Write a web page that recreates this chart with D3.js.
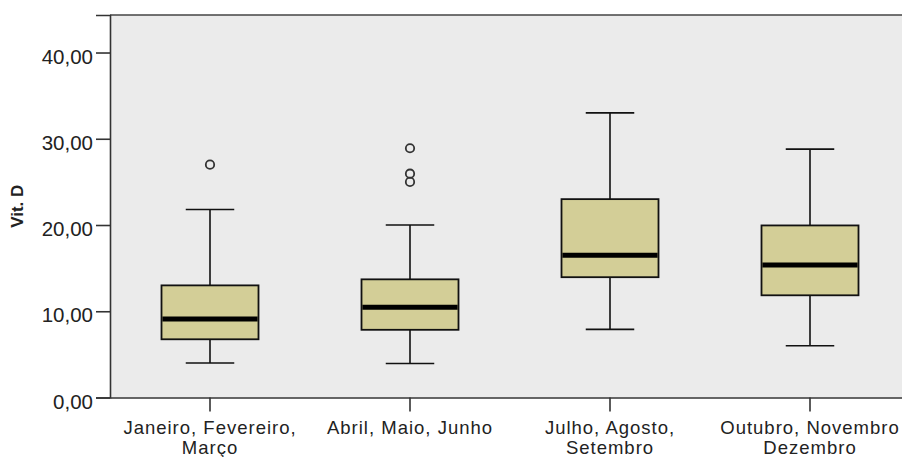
<!DOCTYPE html>
<html>
<head>
<meta charset="utf-8">
<script src="https://cdn.jsdelivr.net/npm/d3@7/dist/d3.min.js"></script>
<style>
  html, body { margin: 0; padding: 0; background: #fff; }
  svg { display: block; }
  text { font-family: "Liberation Sans", Arial, sans-serif; fill: #222; }
</style>
</head>
<body>
<svg id="chart" width="902" height="457"></svg>
<script>
const categories = [
  ["Janeiro, Fevereiro,", "Março"],
  ["Abril, Maio, Junho"],
  ["Julho, Agosto,", "Setembro"],
  ["Outubro, Novembro", "Dezembro"]
];
const whiskerLow  = [4.0, 3.95, 7.9, 6.0];
const q1          = [6.75, 7.85, 13.95, 11.85];
const medianVals  = [9.1, 10.45, 16.5, 15.35];
const q3          = [13.0, 13.7, 23.0, 19.95];
const whiskerHigh = [21.8, 20.0, 33.0, 28.8];
const outliers    = [[27.0], [28.9, 25.95, 25.0], [], []];
const yTicks      = [0, 10, 20, 30, 40];
const yAxisTitle  = "Vit. D";
const yDomainMax  = 44.35;

(function () {
const svg = d3.select("#chart");
const pLeft = 110, pRight = 910, pTop = 15, pBottom = 397.5;

const x = d3.scaleBand().domain(d3.range(categories.length)).range([pLeft, pRight]).paddingInner(0).paddingOuter(0);
const y = d3.scaleLinear().domain([0, yDomainMax]).range([pBottom, pTop]);

// plot background
svg.append("rect")
  .attr("x", pLeft).attr("y", pTop)
  .attr("width", pRight - pLeft).attr("height", pBottom - pTop)
  .attr("fill", "#ebebeb");

const boxW = x.bandwidth() * 0.485;
const capW = boxW * 0.5;

const data = categories.map((c, i) => ({
  i, lo: whiskerLow[i], q1: q1[i], med: medianVals[i], q3: q3[i], hi: whiskerHigh[i], out: outliers[i]
}));

const g = svg.append("g");
const grp = g.selectAll("g.box").data(data).enter().append("g").attr("class", "box");
const cx = d => x(d.i) + x.bandwidth() / 2;

// whiskers
grp.append("line")
  .attr("x1", cx).attr("x2", cx)
  .attr("y1", d => y(d.hi)).attr("y2", d => y(d.q3))
  .attr("stroke", "#111").attr("stroke-width", 1.6);
grp.append("line")
  .attr("x1", cx).attr("x2", cx)
  .attr("y1", d => y(d.q1)).attr("y2", d => y(d.lo))
  .attr("stroke", "#111").attr("stroke-width", 1.6);
grp.append("line")
  .attr("x1", d => cx(d) - capW / 2).attr("x2", d => cx(d) + capW / 2)
  .attr("y1", d => y(d.hi)).attr("y2", d => y(d.hi))
  .attr("stroke", "#111").attr("stroke-width", 1.6);
grp.append("line")
  .attr("x1", d => cx(d) - capW / 2).attr("x2", d => cx(d) + capW / 2)
  .attr("y1", d => y(d.lo)).attr("y2", d => y(d.lo))
  .attr("stroke", "#111").attr("stroke-width", 1.6);

// boxes
grp.append("rect")
  .attr("x", d => cx(d) - boxW / 2)
  .attr("y", d => y(d.q3))
  .attr("width", boxW)
  .attr("height", d => y(d.q1) - y(d.q3))
  .attr("fill", "#d3ce97")
  .attr("stroke", "#111").attr("stroke-width", 1.8);

// median
grp.append("line")
  .attr("x1", d => cx(d) - boxW / 2 + 0.9).attr("x2", d => cx(d) + boxW / 2 - 0.9)
  .attr("y1", d => y(d.med)).attr("y2", d => y(d.med))
  .attr("stroke", "#000").attr("stroke-width", 5);

// outliers
grp.each(function(d) {
  d3.select(this).selectAll("circle").data(d.out).enter().append("circle")
    .attr("cx", cx(d)).attr("cy", v => y(v))
    .attr("r", 4.2)
    .attr("fill", "none")
    .attr("stroke", "#333").attr("stroke-width", 1.8);
});

// frame top
svg.append("line")
  .attr("x1", pLeft).attr("x2", pRight).attr("y1", pTop).attr("y2", pTop)
  .attr("stroke", "#444").attr("stroke-width", 1.5);

// Y axis
const fmt = v => d3.format(".2f")(v).replace(".", ",");
const yAxis = d3.axisLeft(y).tickValues(yTicks).tickFormat(fmt).tickSize(14).tickPadding(3);
const yg = svg.append("g").attr("transform", `translate(${pLeft},0)`).call(yAxis);
yg.select(".domain").attr("stroke", "#333").attr("stroke-width", 1.6);
yg.selectAll(".tick line").attr("stroke", "#333").attr("stroke-width", 1.6);
yg.selectAll(".tick text")
  .attr("font-size", 20.5)
  .attr("font-family", "Liberation Sans, Arial, sans-serif")
  .attr("fill", "#222")
  .attr("dy", "0.52em");

// X axis
const xAxis = d3.axisBottom(x).tickFormat("").tickSize(14).tickSizeOuter(0);
const xg = svg.append("g").attr("transform", `translate(0,${pBottom})`).call(xAxis);
xg.select(".domain").attr("stroke", "#333").attr("stroke-width", 1.6);
xg.selectAll(".tick line").attr("stroke", "#333").attr("stroke-width", 1.6);

// category labels (one text element per line)
xg.selectAll(".tick").each(function(i) {
  const tick = d3.select(this);
  categories[i].forEach((line, k) => {
    tick.append("text")
      .attr("text-anchor", "middle")
      .attr("font-size", 18.5)
      .attr("letter-spacing", 1)
      .attr("font-family", "Liberation Sans, Arial, sans-serif")
      .attr("fill", "#222")
      .attr("x", 0)
      .attr("y", 36 + k * 20.7)
      .text(line);
  });
});

// Y title
svg.append("text")
  .attr("transform", `translate(23, ${(pTop + pBottom) / 2}) rotate(-90)`)
  .attr("text-anchor", "middle")
  .attr("font-size", 17)
  .attr("font-weight", "bold")
  .attr("fill", "#111")
  .text(yAxisTitle);
})();
</script>
</body>
</html>
